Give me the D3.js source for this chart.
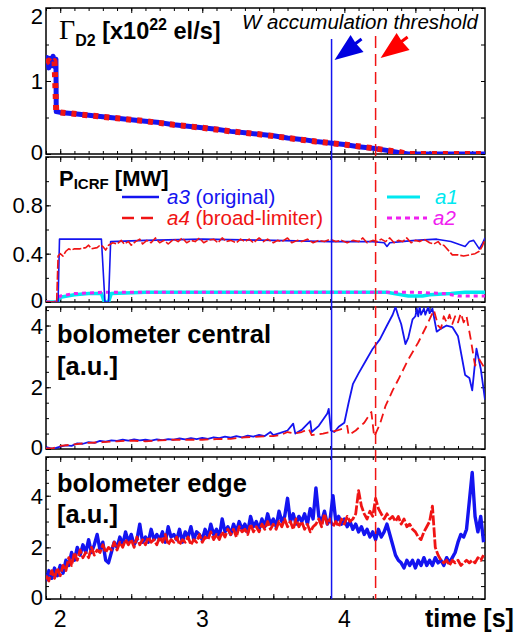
<!DOCTYPE html>
<html>
<head>
<meta charset="utf-8">
<script src="https://cdn.jsdelivr.net/npm/d3@7"></script>
<style>
  html, body { margin: 0; padding: 0; background: #fff; }
  svg { display: block; font-family: "Liberation Sans", Arial, sans-serif; }
</style>
</head>
<body>
<svg id="chart" width="523" height="634"></svg>
<script>
// ---- data -------------------------------------------------------------
// time axis [s]
const timeRange = [1.9, 4.99];
const xTickLabels = [2, 3, 4];
const thresholdTimes = { a3: 3.91, a4: 4.22 };

// D2 fuelling rate [x10^22 el/s], (t, value)
const gasBlue = [[1.90,1.22],[1.91,1.32],[1.92,1.18],[1.93,1.31],[1.94,1.21],[1.95,1.34],[1.96,1.20],[1.97,1.30],[1.972,0.58],
  [2.0,0.57],[2.1,0.55],[2.2,0.53],[2.3,0.51],[2.4,0.49],[2.5,0.47],[2.6,0.45],[2.7,0.43],[2.8,0.40],[2.9,0.38],[3.0,0.36],
  [3.1,0.34],[3.2,0.31],[3.3,0.29],[3.4,0.27],[3.5,0.25],[3.6,0.22],[3.7,0.20],[3.8,0.17],[3.9,0.15],[4.0,0.13],[4.1,0.10],
  [4.2,0.08],[4.3,0.05],[4.38,0.02],[4.45,0.0],[4.99,0.0]];
const gasRed = [[1.90,1.25],[1.92,1.28],[1.94,1.24],[1.96,1.27],[1.972,0.58],[2.0,0.57],[2.2,0.53],[2.4,0.49],[2.6,0.45],
  [2.8,0.40],[3.0,0.36],[3.2,0.31],[3.4,0.27],[3.6,0.22],[3.8,0.17],[4.0,0.13],[4.2,0.08],[4.3,0.05],[4.38,0.03],[4.45,0.0],[4.99,0.0]];

// ICRF power per antenna [MW], (t, value)
const icrfA3 = [[1.90,0],[1.985,0],[1.995,0.52],[2.29,0.52],[2.315,0],[2.34,0],[2.355,0.50],[2.6,0.51],[3.0,0.52],[3.5,0.51],
  [3.9,0.50],[4.2,0.50],[4.28,0.49],[4.30,0.46],[4.32,0.49],[4.4,0.50],[4.5,0.51],[4.65,0.52],[4.75,0.50],[4.85,0.46],
  [4.88,0.50],[4.91,0.51],[4.95,0.44],[4.97,0.48],[4.99,0.53]];
const icrfA4 = [[1.90,0],[1.975,0],[1.985,0.38],[2.0,0.40],[2.02,0.38],[2.04,0.42],[2.06,0.44],[2.08,0.43],[2.10,0.44],[2.14,0.44],
  [2.18,0.45],[2.20,0.47],[2.22,0.44],[2.26,0.45],[2.28,0.47],[2.30,0.46],[2.32,0.43],[2.34,0.47],[2.37,0.49],[2.40,0.48],
  [2.43,0.51],[2.45,0.48],[2.48,0.50],[2.50,0.47],[2.53,0.50],[2.56,0.52],[2.58,0.48],[2.61,0.51],[2.64,0.49],[2.67,0.53],
  [2.70,0.49],[2.73,0.51],[2.76,0.48],[2.80,0.52],[2.83,0.50],[2.86,0.53],[2.89,0.49],[2.92,0.51],[2.95,0.50],[2.98,0.53],
  [3.01,0.49],[3.04,0.51],[3.08,0.52],[3.11,0.49],[3.14,0.53],[3.17,0.50],[3.20,0.51],[3.24,0.49],[3.27,0.52],[3.30,0.50],
  [3.33,0.52],[3.36,0.49],[3.40,0.53],[3.43,0.50],[3.46,0.52],[3.50,0.49],[3.53,0.51],[3.56,0.50],[3.60,0.53],[3.63,0.49],
  [3.67,0.51],[3.70,0.50],[3.74,0.52],[3.78,0.49],[3.82,0.51],[3.86,0.50],[3.90,0.52],[3.94,0.50],[3.98,0.51],[4.02,0.49],
  [4.06,0.51],[4.10,0.50],[4.13,0.53],[4.16,0.49],[4.20,0.51],[4.23,0.50],[4.26,0.52],[4.29,0.50],[4.32,0.53],[4.35,0.49],
  [4.38,0.51],[4.41,0.50],[4.44,0.53],[4.47,0.49],[4.50,0.51],[4.53,0.50],[4.56,0.52],[4.60,0.49],[4.63,0.48],[4.66,0.50],
  [4.68,0.47],[4.70,0.47],[4.76,0.39],[4.80,0.39],[4.84,0.38],[4.88,0.39],[4.92,0.40],[4.95,0.42],[4.97,0.46],[4.99,0.52]];
const icrfA1 = [[1.90,0],[1.98,0],[2.0,0.04],[2.05,0.05],[2.1,0.06],[2.2,0.07],[2.29,0.07],[2.31,0],[2.34,0],[2.36,0.07],
  [2.6,0.08],[3.0,0.08],[3.5,0.08],[4.0,0.08],[4.3,0.08],[4.4,0.06],[4.45,0.05],[4.55,0.05],[4.6,0.06],[4.75,0.07],
  [4.85,0.08],[4.99,0.08]];
const icrfA2 = [[1.90,0],[1.98,0],[2.0,0.05],[2.1,0.07],[2.3,0.08],[2.5,0.08],[3.0,0.08],[4.0,0.08],[4.5,0.08],[4.7,0.07],
  [4.8,0.05],[4.99,0.05]];

// central bolometer chord [a.u.], (t, value)
const bolCentralA3 = [[1.90,0.06],[1.93,0.03],[1.96,0.02],[2.00,0.08],[2.04,0.12],[2.08,0.10],[2.12,0.18],[2.16,0.17],[2.20,0.22],
  [2.24,0.20],[2.28,0.26],[2.32,0.24],[2.36,0.28],[2.40,0.26],[2.44,0.30],[2.48,0.27],[2.52,0.31],[2.56,0.28],[2.60,0.30],
  [2.64,0.27],[2.68,0.31],[2.72,0.29],[2.76,0.32],[2.80,0.30],[2.84,0.34],[2.88,0.31],[2.92,0.35],[2.96,0.32],[3.00,0.36],
  [3.04,0.33],[3.08,0.38],[3.12,0.35],[3.16,0.40],[3.20,0.37],[3.24,0.42],[3.28,0.38],[3.32,0.43],[3.36,0.40],[3.40,0.46],
  [3.44,0.42],[3.48,0.55],[3.50,0.45],[3.55,0.52],[3.60,0.60],[3.64,0.82],[3.655,0.50],[3.70,0.62],[3.76,0.90],[3.77,0.55],
  [3.82,0.75],[3.88,1.15],[3.89,1.30],[3.905,0.60],[3.93,0.55],[3.96,0.72],[4.00,0.85],[4.03,1.50],[4.06,2.10],[4.10,2.45],
  [4.15,2.85],[4.20,3.25],[4.25,3.55],[4.30,4.00],[4.34,4.35],[4.36,4.60],[4.38,4.30],[4.40,4.05],[4.43,3.40],[4.45,3.60],
  [4.48,4.20],[4.50,4.30],[4.51,4.55],[4.52,4.30],[4.53,4.60],[4.54,4.35],[4.56,4.55],[4.57,4.35],[4.59,4.60],[4.60,4.40],
  [4.62,4.55],[4.65,3.80],[4.68,3.90],[4.72,4.00],[4.76,3.95],[4.80,3.65],[4.83,2.90],[4.85,2.40],[4.88,2.30],[4.90,1.90],
  [4.93,3.25],[4.96,2.60],[4.99,1.60]];
const bolCentralA4 = [[1.90,0.02],[1.95,0.03],[2.00,0.10],[2.10,0.15],[2.20,0.20],[2.30,0.22],[2.40,0.25],[2.50,0.27],[2.60,0.25],
  [2.70,0.28],[2.80,0.30],[2.90,0.30],[3.00,0.30],[3.10,0.32],[3.20,0.33],[3.30,0.38],[3.40,0.40],[3.50,0.42],[3.55,0.45],
  [3.60,0.55],[3.65,0.50],[3.70,0.55],[3.75,0.65],[3.77,0.45],[3.85,0.50],[3.90,0.55],[3.95,0.60],[4.00,0.68],[4.02,0.75],
  [4.03,0.45],[4.08,0.60],[4.14,0.85],[4.19,1.20],[4.21,0.40],[4.25,0.80],[4.29,1.40],[4.34,1.90],[4.38,2.25],[4.45,2.90],
  [4.52,3.45],[4.58,4.00],[4.63,4.50],[4.66,4.00],[4.68,3.90],[4.70,4.30],[4.72,4.10],[4.74,4.35],[4.76,4.05],[4.78,4.30],
  [4.80,4.10],[4.82,4.40],[4.84,4.10],[4.86,4.30],[4.89,3.55],[4.92,2.70],[4.95,2.90],[4.99,2.60]];

// edge bolometer chord [a.u.], sampled every 20 ms from 1.90 s
const bolEdgeA3 = [
  0.7,1.1,0.8,1.2,0.9,  1.3,1.0,1.5,1.3,1.8,  1.5,2.0,1.7,2.1,1.8,  2.3,1.8,2.1,2.5,1.9,
  2.2,1.5,1.4,1.8,2.2,  2.0,2.4,2.1,2.6,2.2,  2.5,2.1,2.3,2.9,2.2,  2.4,2.2,2.7,2.3,2.5,
  2.3,2.6,2.2,2.8,2.4,  2.5,2.3,2.7,2.2,2.6,  2.4,2.8,2.3,2.6,2.5,  2.3,2.7,2.4,2.9,2.5,
  2.7,2.4,3.1,2.6,2.8,  2.5,2.9,2.6,3.0,2.7,  2.9,2.6,3.2,2.8,3.0,  2.7,3.1,2.8,3.3,2.9,
  3.1,2.8,3.4,3.0,3.2,  3.9,3.0,3.3,2.9,3.2,  3.0,3.3,2.9,3.5,3.1,  4.3,3.2,3.0,3.4,2.9,
  3.1,4.0,3.0,3.2,2.9,  3.1,2.8,3.0,2.7,2.9,  2.6,2.8,2.5,2.7,2.4,  2.6,2.3,2.7,2.4,2.6,
  2.9,2.5,2.1,1.7,1.5,  1.4,1.2,1.5,1.3,1.5,  1.2,1.5,1.3,1.6,1.3,  1.5,1.3,1.6,1.4,1.5,
  1.3,1.6,1.4,1.6,1.8,  2.2,2.5,2.4,2.7,3.8,  4.9,3.2,2.6,3.2,2.2];
const bolEdgeA4 = [
  0.9,0.7,1.1,0.8,1.2,  0.9,1.3,1.1,1.6,1.3,  1.8,1.5,1.9,1.6,1.8,  1.6,2.0,1.7,1.9,1.8,
  2.1,1.8,2.0,1.9,2.2,  1.9,2.2,2.0,2.3,2.1,  2.3,2.0,2.4,2.1,2.3,  2.1,2.4,2.2,2.3,2.1,
  2.4,2.2,2.5,2.1,2.3,  2.2,2.4,2.1,2.3,2.2,  2.4,2.1,2.3,2.2,2.5,  2.2,2.4,2.3,2.6,2.3,
  2.5,2.3,2.6,2.4,2.7,  2.5,2.7,2.4,2.8,2.6,  2.7,2.5,2.9,2.6,2.8,  2.6,2.9,2.7,3.0,2.7,
  2.9,2.7,3.0,2.8,3.1,  2.8,3.0,2.7,3.1,2.8,  3.0,2.7,2.9,2.6,2.8,  2.9,3.1,2.8,3.3,2.9,
  3.1,2.8,3.0,2.8,3.1,  2.9,3.2,3.0,3.1,3.3,  4.2,3.6,3.3,3.1,3.4,  3.2,3.9,3.5,3.3,3.1,
  3.3,3.1,3.2,3.0,3.2,  2.9,3.1,2.8,2.9,2.7,  2.6,2.4,2.3,2.6,2.8,  3.0,3.6,2.0,1.7,1.5,
  1.4,1.5,1.3,1.5,1.4,  1.5,1.3,1.4,1.5,1.4,  1.5,1.4,1.6,1.5,1.7];
const edgeStep = 0.02;

// ---- layout -----------------------------------------------------------
const svg = d3.select("#chart");
const left = 46, right = 485;
const BLUE = "#1414f0", RED = "#f01414", CYAN = "#00e8f0", MAGENTA = "#f020f0";

const x = d3.scaleLinear().domain(timeRange).range([left, right]);

const panels = [
  { top: 8,   bottom: 154, domain: [0, 2.0], major: [0, 1, 2], minor: d3.range(0, 2.01, 0.5), fmt: d3.format("d") },
  { top: 157, bottom: 302, domain: [0, 1.2], major: [0, 0.4, 0.8], minor: d3.range(0, 1.21, 0.2), fmt: d => d === 0 ? "0" : d3.format(".1f")(d) },
  { top: 307, bottom: 449, domain: [0, 4.6], major: [0, 2, 4], minor: d3.range(0, 4.6, 0.5), fmt: d3.format("d") },
  { top: 457, bottom: 599, domain: [0, 5.5], major: [0, 2, 4], minor: d3.range(0, 5.51, 0.5), fmt: d3.format("d") }
];
panels.forEach(p => { p.y = d3.scaleLinear().domain(p.domain).range([p.bottom, p.top]); });

const defs = svg.append("defs");
panels.forEach((p, i) => {
  defs.append("clipPath").attr("id", "clip" + i)
    .append("rect").attr("x", left).attr("y", p.top).attr("width", right - left).attr("height", p.bottom - p.top);
});

// axes with inward ticks on all four sides
const xMinor = d3.range(1.9, 4.995, 0.1);
const xMajor = [2, 2.5, 3, 3.5, 4, 4.5];
panels.forEach((p, i) => {
  const g = svg.append("g").attr("class", "axes");
  const addAxis = (axisFn, transform, scale, values, size) => {
    const a = g.append("g").attr("transform", transform)
      .call(axisFn(scale).tickValues(values).tickSize(-size).tickFormat(""));
    a.select(".domain").remove();
    a.selectAll(".tick line").attr("stroke", "#000").attr("stroke-width", 1);
  };
  addAxis(d3.axisBottom, `translate(0,${p.bottom})`, x, xMinor, 3);
  addAxis(d3.axisBottom, `translate(0,${p.bottom})`, x, xMajor, 5);
  addAxis(d3.axisTop, `translate(0,${p.top})`, x, xMinor, 3);
  addAxis(d3.axisTop, `translate(0,${p.top})`, x, xMajor, 5);
  addAxis(d3.axisLeft, `translate(${left},0)`, p.y, p.minor, 3);
  addAxis(d3.axisLeft, `translate(${left},0)`, p.y, p.major, 5);
  addAxis(d3.axisRight, `translate(${right},0)`, p.y, p.minor, 4);

  // left tick labels
  g.selectAll("text.ylab").data(p.major).join("text")
    .attr("x", 43).attr("y", d => Math.min(Math.max(p.y(d), p.top + 8), p.bottom - 2) + 8)
    .attr("text-anchor", "end").attr("font-size", 22).text(p.fmt);

  g.append("rect").attr("x", left).attr("y", p.top).attr("width", right - left).attr("height", p.bottom - p.top)
    .attr("fill", "none").attr("stroke", "#000").attr("stroke-width", 1.5);
});

// bottom time labels
svg.selectAll("text.xlab").data(xTickLabels).join("text")
  .attr("x", d => x(d)).attr("y", 627).attr("text-anchor", "middle").attr("font-size", 23).text(d => d);
svg.append("text").attr("x", 425).attr("y", 627).attr("font-size", 25).attr("font-weight", "bold").text("time [s]");

// ---- traces -----------------------------------------------------------
function pairLine(p) {
  return d3.line().x(d => x(d[0])).y(d => p.y(d[1]));
}
function drawTrace(i, data, style) {
  const p = panels[i];
  svg.append("path").attr("clip-path", `url(#clip${i})`)
    .datum(data)
    .attr("d", pairLine(p))
    .attr("fill", "none")
    .attr("stroke", style.color)
    .attr("stroke-width", style.width)
    .attr("stroke-dasharray", style.dash || null)
    .attr("stroke-linejoin", "round");
}
const withTime = (vals, t0, dt) => vals.map((v, k) => [t0 + k * dt, v]);

// panel 1: fuelling
drawTrace(0, gasBlue, { color: BLUE, width: 5 });
drawTrace(0, gasRed, { color: RED, width: 6, dash: "5,6" });

// panel 2: ICRF power
drawTrace(1, icrfA1, { color: CYAN, width: 3.5 });
drawTrace(1, icrfA2, { color: MAGENTA, width: 3, dash: "4,4" });
drawTrace(1, icrfA3, { color: BLUE, width: 1.6 });
drawTrace(1, icrfA4, { color: RED, width: 1.6, dash: "9,2" });

// panel 3: central bolometer
drawTrace(2, bolCentralA3, { color: BLUE, width: 1.8 });
drawTrace(2, bolCentralA4, { color: RED, width: 1.8, dash: "9,5" });

// panel 4: edge bolometer
drawTrace(3, withTime(bolEdgeA3, timeRange[0], edgeStep), { color: BLUE, width: 3.4 });
drawTrace(3, withTime(bolEdgeA4, timeRange[0], edgeStep), { color: RED, width: 2.8, dash: "10,2" });

// ---- threshold markers -------------------------------------------------
svg.append("line").attr("x1", x(thresholdTimes.a3)).attr("x2", x(thresholdTimes.a3))
  .attr("y1", 39).attr("y2", panels[3].bottom).attr("stroke", BLUE).attr("stroke-width", 1.5);
svg.append("line").attr("x1", x(thresholdTimes.a4)).attr("x2", x(thresholdTimes.a4))
  .attr("y1", 36).attr("y2", panels[3].bottom).attr("stroke", RED).attr("stroke-width", 1.5)
  .attr("stroke-dasharray", "12,6");

function arrow(tipX, tipY, color) {
  // notched arrow head pointing down-left, with a short shaft
  const head = [[tipX, tipY], [tipX + 16, tipY - 25], [tipX + 21, tipY - 17], [tipX + 29, tipY - 8]];
  svg.append("path")
    .attr("d", `M${head[0]}L${head[1]}L${head[2]}L${head[3]}Z`)
    .attr("fill", color);
  svg.append("line").attr("x1", tipX + 19).attr("y1", tipY - 15).attr("x2", tipX + 27).attr("y2", tipY - 21)
    .attr("stroke", color).attr("stroke-width", 3);
}
arrow(x(thresholdTimes.a3) + 3, 60, "#0000e0");
arrow(x(thresholdTimes.a4) + 5, 58, "#ff0000");

svg.append("text").attr("x", 242).attr("y", 29).attr("font-size", 20.5).attr("font-style", "italic")
  .text("W accumulation threshold");

// ---- panel labels ------------------------------------------------------
const t1 = svg.append("text").attr("x", 59).attr("y", 39).attr("font-weight", "bold").attr("font-size", 23.5);
t1.append("tspan").attr("font-family", "Liberation Serif, serif").attr("font-weight", "normal").attr("font-size", 28).text("Γ");
t1.append("tspan").attr("font-size", 16).attr("dy", 7).text("D2");
t1.append("tspan").attr("dy", -7).text(" [x10");
t1.append("tspan").attr("font-size", 16).attr("dy", -9).text("22");
t1.append("tspan").attr("dy", 9).text(" el/s]");

const t2 = svg.append("text").attr("x", 59).attr("y", 186).attr("font-weight", "bold").attr("font-size", 22);
t2.append("tspan").text("P");
t2.append("tspan").attr("font-size", 15).attr("dy", 3).text("ICRF");
t2.append("tspan").attr("dy", -3).text(" [MW]");

// legend
const legend = [
  { x0: 122, x1: 159, y: 197, tx: 167, color: BLUE, width: 2.5, dash: null, name: "a3", note: " (original)" },
  { x0: 122, x1: 159, y: 218, tx: 167, color: RED, width: 2.5, dash: "12,7", name: "a4", note: " (broad-limiter)" },
  { x0: 387, x1: 420, y: 197, tx: 435, color: CYAN, width: 3, dash: null, name: "a1", note: "" },
  { x0: 387, x1: 427, y: 218, tx: 433, color: MAGENTA, width: 3, dash: "5,4", name: "a2", note: "" }
];
legend.forEach(l => {
  svg.append("line").attr("x1", l.x0).attr("x2", l.x1).attr("y1", l.y).attr("y2", l.y)
    .attr("stroke", l.color).attr("stroke-width", l.width).attr("stroke-dasharray", l.dash);
  const t = svg.append("text").attr("x", l.tx).attr("y", l.y + 7).attr("font-size", 20.5).attr("fill", l.color);
  t.append("tspan").attr("font-style", "italic").text(l.name);
  t.append("tspan").text(l.note);
});

const bolLabels = [
  { y: 343, text: "bolometer central" }, { y: 375, text: "[a.u.]" },
  { y: 492, text: "bolometer edge" }, { y: 523, text: "[a.u.]" }
];
svg.selectAll("text.bol").data(bolLabels).join("text")
  .attr("x", 57).attr("y", d => d.y).attr("font-size", 25.5).attr("font-weight", "bold").text(d => d.text);
</script>
</body>
</html>
